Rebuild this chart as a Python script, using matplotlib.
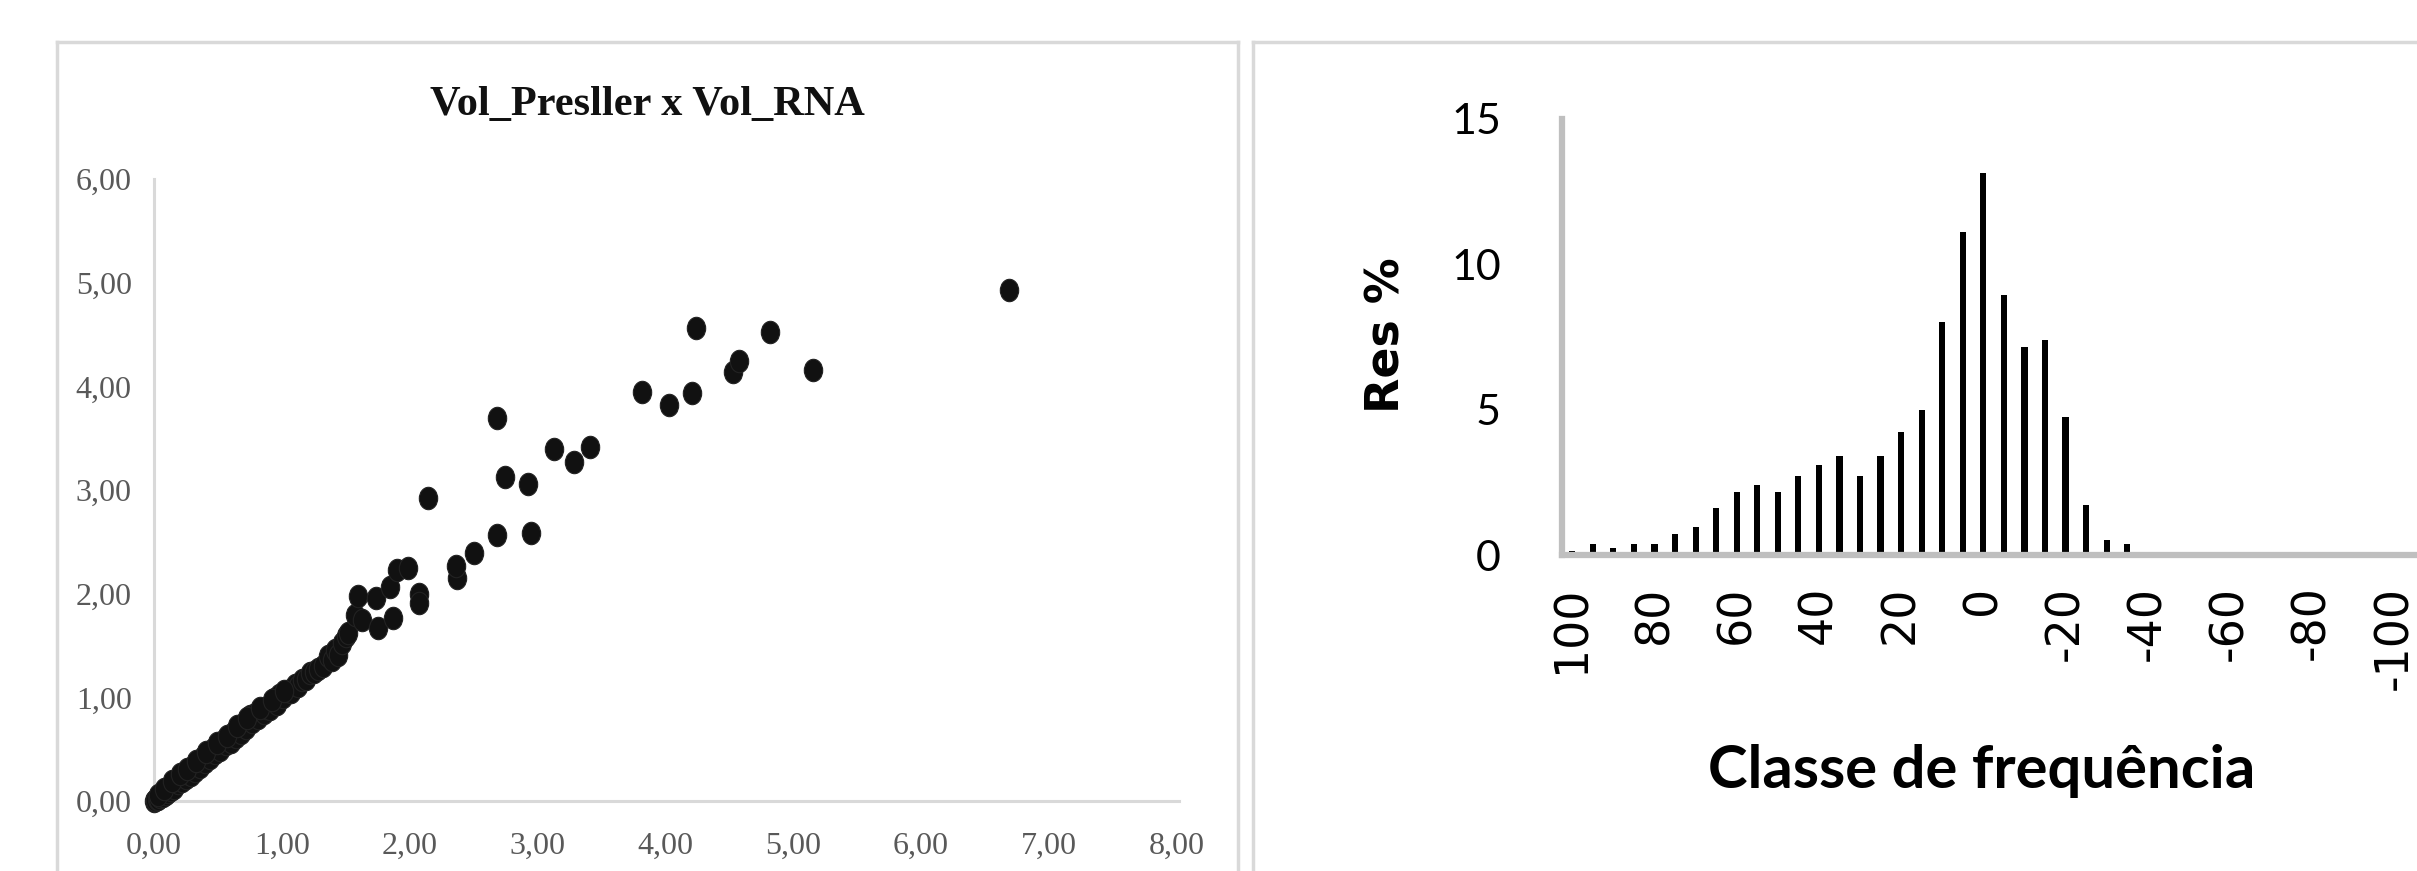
import matplotlib
matplotlib.use("Agg")
import matplotlib.pyplot as plt
from matplotlib.lines import Line2D
from matplotlib.path import Path
from matplotlib.transforms import Affine2D
import numpy as np

# === DADOS: dispersão Vol_Presller x Vol_RNA ===
vol_presller = [
    0.00, 0.01, 0.02, 0.03, 0.04, 0.05, 0.06, 0.07, 0.08, 0.09,
    0.10, 0.11, 0.12, 0.13, 0.15, 0.16, 0.18, 0.19, 0.21, 0.22,
    0.24, 0.25, 0.27, 0.29, 0.30, 0.32, 0.34, 0.36, 0.38, 0.40,
    0.42, 0.44, 0.46, 0.48, 0.50, 0.52, 0.54, 0.56, 0.58, 0.60,
    0.62, 0.64, 0.66, 0.68, 0.70, 0.72, 0.75, 0.77, 0.79, 0.81,
    0.84, 0.86, 0.88, 0.91, 0.94, 0.96, 0.98, 1.01, 1.04, 1.07,
    1.10, 1.13, 1.16, 1.19, 1.22, 1.25, 1.28, 1.32, 1.36, 1.39,
    1.42, 1.44, 1.47, 1.50,
    0.03, 0.08, 0.14, 0.20, 0.26, 0.33, 0.41, 0.49, 0.57, 0.65,
    0.73, 0.83, 0.92, 1.02,
    1.52, 1.57, 1.63, 1.75, 1.87, 1.60, 1.74, 2.07, 2.07, 1.85,
    1.90, 1.99, 2.37, 2.36, 2.50, 2.68, 2.95, 2.14, 2.75, 2.93,
    2.68, 3.13, 3.29, 3.41, 3.82, 4.03, 4.21, 4.24, 4.53, 4.58,
    4.82, 5.16, 6.69,
]
vol_rna = [
    0.00, 0.01, 0.02, 0.02, 0.05, 0.04, 0.06, 0.05, 0.09, 0.07,
    0.11, 0.09, 0.13, 0.11, 0.16, 0.13, 0.20, 0.17, 0.24, 0.19,
    0.27, 0.22, 0.26, 0.25, 0.33, 0.29, 0.36, 0.33, 0.42, 0.38,
    0.44, 0.41, 0.50, 0.46, 0.53, 0.49, 0.58, 0.55, 0.62, 0.57,
    0.66, 0.62, 0.70, 0.66, 0.74, 0.70, 0.82, 0.76, 0.84, 0.80,
    0.88, 0.85, 0.90, 0.89, 0.98, 0.94, 1.02, 1.00, 1.06, 1.05,
    1.12, 1.11, 1.17, 1.18, 1.23, 1.24, 1.27, 1.30, 1.40, 1.36,
    1.46, 1.41, 1.52, 1.59,
    0.06, 0.12, 0.19, 0.26, 0.31, 0.39, 0.47, 0.56, 0.63, 0.72,
    0.80, 0.90, 0.97, 1.06,
    1.62, 1.79, 1.75, 1.67, 1.77, 1.98, 1.96, 2.00, 1.91, 2.06,
    2.23, 2.25, 2.15, 2.27, 2.39, 2.57, 2.59, 2.92, 3.13, 3.06,
    3.69, 3.40, 3.27, 3.41, 3.95, 3.82, 3.94, 4.56, 4.14, 4.24,
    4.52, 4.16, 4.93,
]
x_ticks = [0, 1, 2, 3, 4, 5, 6, 7, 8]
x_tick_labels = ["0,00", "1,00", "2,00", "3,00", "4,00", "5,00", "6,00", "7,00", "8,00"]
y_ticks = [0, 1, 2, 3, 4, 5, 6]
y_tick_labels = ["0,00", "1,00", "2,00", "3,00", "4,00", "5,00", "6,00"]

# === DADOS: histograma de resíduos ===
classes = [100, 95, 90, 85, 80, 75, 70, 65, 60, 55, 50, 45, 40, 35, 30, 25, 20,
           15, 10, 5, 0, -5, -10, -15, -20, -25, -30, -35, -40, -45, -50, -55,
           -60, -65, -70, -75, -80, -85, -90, -95, -100]
res_pct = [0.15, 0.38, 0.25, 0.38, 0.38, 0.72, 0.95, 1.62, 2.18, 2.42, 2.18,
           2.73, 3.08, 3.42, 2.73, 3.42, 4.22, 5.00, 8.03, 11.10, 13.13, 8.96,
           7.14, 7.38, 4.76, 1.73, 0.50, 0.38, 0, 0, 0, 0, 0, 0, 0, 0, 0, 0, 0, 0, 0]
res_blue = [0.10]
hist_y_ticks = [0, 5, 10, 15]

W, H = 2417, 871
fig = plt.figure(figsize=(W / 100, H / 100), dpi=100)
fig.patch.set_facecolor("white")

# molduras dos dois gráficos (estilo Excel)
borda = "#d9d9d9"
def seg(x0, y0, x1, y1):
    fig.add_artist(Line2D([x0 / W, x1 / W], [1 - y0 / H, 1 - y1 / H],
                          color=borda, lw=2.5, transform=fig.transFigure))
seg(57, 42, 57, 871)
seg(57, 42, 1238, 42)
seg(1238, 42, 1238, 871)
seg(1253, 42, 1253, 871)
seg(1253, 42, 2417, 42)

# === GRÁFICO 1: dispersão ===
ax1 = fig.add_axes([154 / W, 1 - 801 / H, (1179 - 154) / W, (801 - 179) / H])
elipse = Path.unit_circle().transformed(Affine2D().scale(0.82, 1.0))
ax1.scatter(vol_presller, vol_rna, s=260, marker=elipse, color="#111111",
            edgecolors="#222222", linewidths=0.8, zorder=3, clip_on=False)
ax1.set_xlim(0, 8.02)
ax1.set_ylim(0, 6)
ax1.set_xticks(x_ticks)
ax1.set_xticklabels(x_tick_labels)
ax1.set_yticks(y_ticks)
ax1.set_yticklabels(y_tick_labels)
for s in ["top", "right"]:
    ax1.spines[s].set_visible(False)
for s in ["left", "bottom"]:
    ax1.spines[s].set_color("#d9d9d9")
    ax1.spines[s].set_linewidth(2.2)
ax1.tick_params(length=0, labelsize=23, labelcolor="#595959")
ax1.tick_params(axis="x", pad=22)
ax1.tick_params(axis="y", pad=16)
for lb in ax1.get_xticklabels() + ax1.get_yticklabels():
    lb.set_family("Liberation Serif")
ax1.text(0.481, 1.119, "Vol_Presller x Vol_RNA", transform=ax1.transAxes,
         ha="center", va="center", fontsize=30.5, fontweight="bold",
         family="Liberation Serif", color="#111111")

# === GRÁFICO 2: histograma ===
ax2 = fig.add_axes([1562 / W, 1 - 555 / H, (W - 1562) / W, (555 - 119) / H])
idx = np.arange(len(classes))
ax2.bar(idx, res_pct, width=0.3, color="black", zorder=2)
ax2.bar(idx[:len(res_blue)] - 0.3, res_blue, width=0.3, color="#4472c4", zorder=2)
ax2.set_xlim(-0.5, 41.1)
ax2.set_ylim(0, 15)
ax2.set_yticks(hist_y_ticks)
ax2.set_xticks(idx[::4])
ax2.set_xticklabels([str(c) for c in classes[::4]], rotation=90, va="top")
for s in ["top", "right"]:
    ax2.spines[s].set_visible(False)
for s in ["left", "bottom"]:
    ax2.spines[s].set_color("#bfbfbf")
    ax2.spines[s].set_linewidth(4.5)
ax2.tick_params(length=0)
ax2.tick_params(axis="y", labelsize=31, pad=44)
ax2.tick_params(axis="x", labelsize=33, pad=22)
for lb in ax2.get_yticklabels():
    lb.set_family("Lato")
for lb in ax2.get_xticklabels():
    lb.set_family("DejaVu Sans")

fig.text(1387 / W, 1 - 335 / H, "Res %", rotation=90, ha="center", va="center",
         fontsize=33, fontweight="bold", family="DejaVu Sans")
fig.text(1982 / W, 1 - 771 / H, "Classe de frequência", ha="center", va="center",
         fontsize=43, fontweight="bold", family="Lato")

fig.savefig("out.png", dpi=100, facecolor="white")
